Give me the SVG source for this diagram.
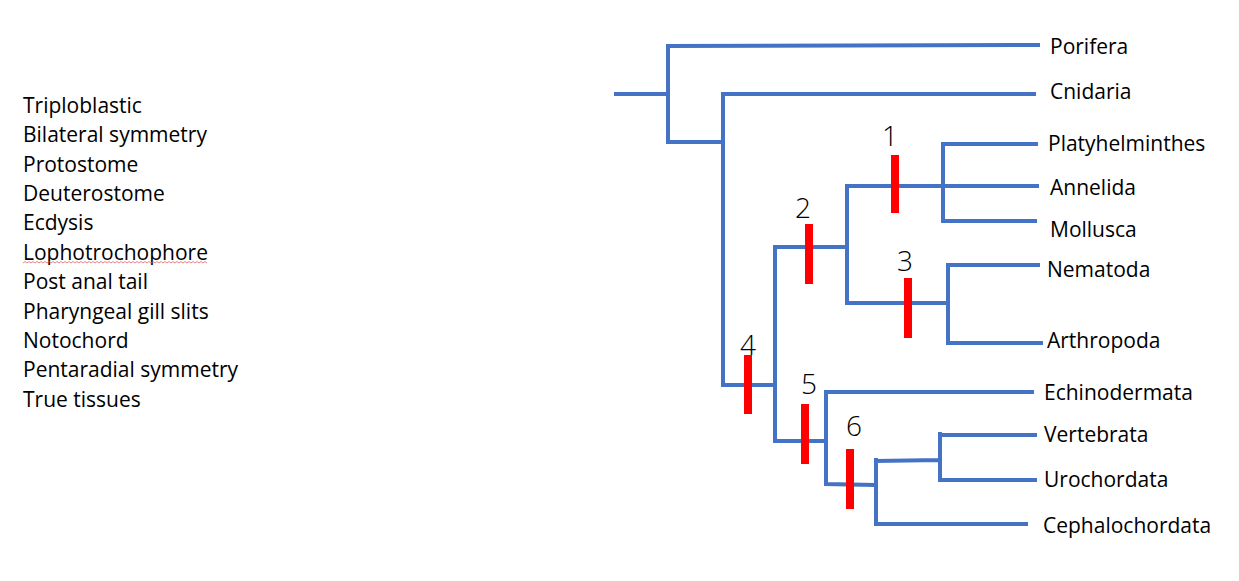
<svg xmlns="http://www.w3.org/2000/svg" width="1239" height="581" viewBox="0 0 1239 581">
<style>
.br{stroke:#4472C4;stroke-width:4;fill:none;stroke-linecap:square;stroke-linejoin:miter}
.mk{fill:#FF0000}
.t{font-family:"Open Sans","Liberation Sans",sans-serif;font-size:21px;fill:#000}
.n{font-family:"Open Sans","Liberation Sans",sans-serif;font-size:28px;fill:#000;font-weight:300}
</style>
<rect width="1239" height="581" fill="#fff"/>
<g id="legend">
<text class="t" x="23" y="113">Triploblastic</text>
<text class="t" x="23" y="142">Bilateral symmetry</text>
<text class="t" x="23" y="172">Protostome</text>
<text class="t" x="23" y="201">Deuterostome</text>
<text class="t" x="23" y="230">Ecdysis</text>
<text class="t" x="23" y="260">Lophotrochophore</text>
<path d="M23,263 l2,-1.5 l2,1.5 l2,-1.5 l2,1.5 l2,-1.5 l2,1.5 l2,-1.5 l2,1.5 l2,-1.5 l2,1.5 l2,-1.5 l2,1.5 l2,-1.5 l2,1.5 l2,-1.5 l2,1.5 l2,-1.5 l2,1.5 l2,-1.5 l2,1.5 l2,-1.5 l2,1.5 l2,-1.5 l2,1.5 l2,-1.5 l2,1.5 l2,-1.5 l2,1.5 l2,-1.5 l2,1.5 l2,-1.5 l2,1.5 l2,-1.5 l2,1.5 l2,-1.5 l2,1.5 l2,-1.5 l2,1.5 l2,-1.5 l2,1.5 l2,-1.5 l2,1.5 l2,-1.5 l2,1.5 l2,-1.5 l2,1.5 l2,-1.5 l2,1.5 l2,-1.5 l2,1.5 l2,-1.5 l2,1.5 l2,-1.5 l2,1.5 l2,-1.5 l2,1.5 l2,-1.5 l2,1.5 l2,-1.5 l2,1.5 l2,-1.5 l2,1.5 l2,-1.5 l2,1.5 l2,-1.5 l2,1.5 l2,-1.5 l2,1.5 l2,-1.5 l2,1.5 l2,-1.5 l2,1.5 l2,-1.5 l2,1.5 l2,-1.5 l2,1.5 l2,-1.5 l2,1.5 l2,-1.5 l2,1.5 l2,-1.5 l2,1.5 l2,-1.5 l2,1.5 l2,-1.5 l2,1.5 l2,-1.5 l2,1.5 l2,-1.5 l2,1.5 l2,-1.5 l2,1.5" fill="none" stroke="#E06666" stroke-width="0.8"/>
<text class="t" x="23" y="289">Post anal tail</text>
<text class="t" x="23" y="319">Pharyngeal gill slits</text>
<text class="t" x="23" y="348">Notochord</text>
<text class="t" x="23" y="377">Pentaradial symmetry</text>
<text class="t" x="23" y="407">True tissues</text>
</g>
<g id="connectors">
<path class="br" d="M616,94 H668 M668,46 V142 M668,46 L1038,45 M668,142 H723 M723,94 V385 M723,94 H1034"/>
<path class="br" d="M723,385 H775 M775,247 V440 M775,247 H847 M847,186 V303 M847,186 H943 M943,144 V220 M943,144 H1036 M943,186 H1037 M943,221 H1035"/>
<path class="br" d="M847,303 H946 M948,265 V343 M948,265 H1038 M948,343 H1041"/>
<path class="br" d="M775,441 H826 M826,392 V484 M826,392 H1032 M826,484 L875,485 M876,460 V524 M876,461 L940,460 M940,434 V480 M940,435 H1035 M940,480 H1035 M876,524 H1026"/>
</g>
<g id="markers">
<rect class="mk" x="891" y="155" width="8" height="58"/>
<rect class="mk" x="805" y="224" width="8" height="60"/>
<rect class="mk" x="904" y="278" width="8" height="60"/>
<rect class="mk" x="744" y="355" width="8" height="59"/>
<rect class="mk" x="801" y="404" width="8" height="60"/>
<rect class="mk" x="846" y="449" width="8" height="60"/>
</g>
<g id="numbers">
<text class="n" x="882" y="146">1</text>
<text class="n" x="795" y="218">2</text>
<text class="n" x="897" y="271">3</text>
<text class="n" x="740" y="355">4</text>
<text class="n" x="801" y="394">5</text>
<text class="n" x="846" y="436">6</text>
</g>
<g id="taxa">
<text class="t" x="1050" y="54">Porifera</text>
<text class="t" x="1050" y="99">Cnidaria</text>
<text class="t" x="1048" y="151">Platyhelminthes</text>
<text class="t" x="1050" y="195">Annelida</text>
<text class="t" x="1050" y="237">Mollusca</text>
<text class="t" x="1047" y="277">Nematoda</text>
<text class="t" x="1047" y="348">Arthropoda</text>
<text class="t" x="1044" y="400">Echinodermata</text>
<text class="t" x="1044" y="442">Vertebrata</text>
<text class="t" x="1044" y="487">Urochordata</text>
<text class="t" x="1043" y="533">Cephalochordata</text>
</g>
</svg>
